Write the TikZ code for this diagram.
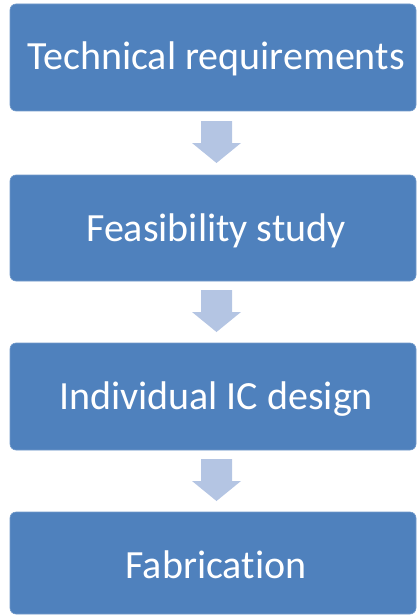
\documentclass[tikz,border=0pt]{standalone}
\usepackage{fontspec}
\setmainfont[Ligatures={NoCommon}]{Carlito}
\definecolor{boxblue}{HTML}{4F81BD}
\definecolor{arrowblue}{HTML}{B4C5E3}
\tikzset{
  stepbox/.style={fill=boxblue, draw=boxblue!80!white, line width=0.6pt, rounded corners=6pt},
  steptext/.style={text=white, font=\fontsize{40}{48}\selectfont, inner sep=0pt, anchor=base},
  downarrow/.style={fill=arrowblue, draw=none}
}
\begin{document}
\begin{tikzpicture}[x=1pt,y=-1pt]
\useasboundingbox (0,0) rectangle (418,615);
\path[stepbox] (10,4) rectangle (416,111);
\path[stepbox] (10,175) rectangle (416,281);
\path[stepbox] (10,343) rectangle (416,450);
\path[stepbox] (10,512) rectangle (416,614);
\node[steptext] (t1) at (216,70) {Technical requirements};
\node[steptext] (t2) at (216,241) {Feasibility study};
\node[steptext] (t3) at (216,409) {Individual IC design};
\node[steptext] (t4) at (216,578) {Fabrication};
\foreach \yy in {0,169,338}{
  \path[downarrow] (201,121+\yy) -- (232,121+\yy) -- (232,143+\yy) -- (241,143+\yy) -- (216.5,163+\yy) -- (192,143+\yy) -- (201,143+\yy) -- cycle;
}
\end{tikzpicture}
\end{document}
